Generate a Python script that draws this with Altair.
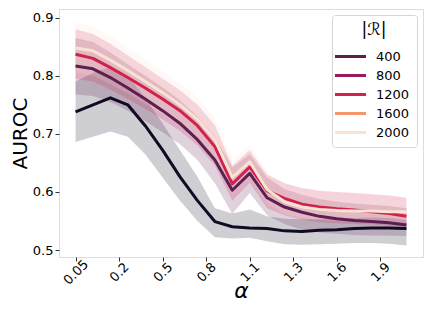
import altair as alt
import pandas as pd

# alpha grid (20 evaluated points) and the tick labels shown on the axis
alphas = [0.05, 0.1, 0.2, 0.3, 0.4, 0.5, 0.6, 0.7, 0.8, 0.9,
          1.0, 1.1, 1.2, 1.3, 1.4, 1.5, 1.6, 1.7, 1.8, 1.9]
tick_labels = ["0.05", "0.2", "0.5", "0.8", "1.1", "1.3", "1.6", "1.9"]

# |R| values in the colour scale and those listed in the legend
all_sizes = ["200", "400", "800", "1200", "1600", "2000"]
legend_sizes = ["400", "800", "1200", "1600", "2000"]
palette = ["#0f0b22", "#5d1e51", "#9a1b5c", "#d2204f", "#f4956a", "#f8e2d2"]

# mean AUROC per drawn series
mean_200 = [0.738, 0.750, 0.762, 0.750, 0.714, 0.672, 0.626, 0.585, 0.549, 0.540,
            0.538, 0.537, 0.533, 0.532, 0.534, 0.535, 0.537, 0.538, 0.538, 0.537]
mean_400 = [0.817, 0.812, 0.797, 0.779, 0.760, 0.740, 0.718, 0.690, 0.655, 0.603,
            0.632, 0.590, 0.574, 0.565, 0.558, 0.554, 0.551, 0.549, 0.547, 0.543]
mean_1200 = [0.837, 0.830, 0.814, 0.797, 0.779, 0.760, 0.740, 0.714, 0.678, 0.614,
             0.643, 0.602, 0.589, 0.579, 0.574, 0.571, 0.569, 0.566, 0.563, 0.558]
mean_2000 = [0.848, 0.843, 0.827, 0.809, 0.790, 0.771, 0.750, 0.725, 0.690, 0.625,
             0.652, 0.604, 0.583, 0.574, 0.570, 0.568, 0.567, 0.567, 0.566, 0.566]

# confidence band limits
lo_200 = [0.686, 0.695, 0.704, 0.695, 0.665, 0.625, 0.585, 0.550, 0.522, 0.520,
          0.521, 0.515, 0.510, 0.509, 0.510, 0.511, 0.512, 0.512, 0.511, 0.508]
hi_200 = [0.790, 0.805, 0.815, 0.800, 0.762, 0.718, 0.672, 0.626, 0.572, 0.563,
          0.570, 0.558, 0.554, 0.553, 0.553, 0.554, 0.555, 0.556, 0.555, 0.552]
lo_400 = [0.768, 0.765, 0.755, 0.740, 0.722, 0.703, 0.682, 0.655, 0.615, 0.562,
          0.598, 0.560, 0.545, 0.535, 0.530, 0.528, 0.526, 0.525, 0.525, 0.524]
hi_400 = [0.865, 0.858, 0.840, 0.820, 0.800, 0.780, 0.758, 0.730, 0.695, 0.642,
          0.665, 0.625, 0.605, 0.595, 0.588, 0.583, 0.580, 0.578, 0.576, 0.572]
lo_1200 = [0.795, 0.790, 0.776, 0.760, 0.743, 0.725, 0.705, 0.680, 0.645, 0.585,
           0.616, 0.572, 0.560, 0.552, 0.548, 0.546, 0.545, 0.544, 0.542, 0.540]
hi_1200 = [0.880, 0.872, 0.855, 0.835, 0.815, 0.795, 0.775, 0.750, 0.715, 0.645,
           0.672, 0.630, 0.615, 0.607, 0.602, 0.600, 0.598, 0.596, 0.594, 0.590]
lo_2000 = [0.805, 0.800, 0.786, 0.770, 0.752, 0.734, 0.714, 0.690, 0.656, 0.598,
           0.625, 0.580, 0.562, 0.555, 0.552, 0.550, 0.549, 0.548, 0.548, 0.547]
hi_2000 = [0.892, 0.885, 0.868, 0.848, 0.828, 0.808, 0.787, 0.762, 0.728, 0.655,
           0.682, 0.634, 0.608, 0.598, 0.592, 0.590, 0.589, 0.588, 0.587, 0.585]

series = {
    "200": (mean_200, lo_200, hi_200),
    "400": (mean_400, lo_400, hi_400),
    "1200": (mean_1200, lo_1200, hi_1200),
    "2000": (mean_2000, lo_2000, hi_2000),
}

rows = []
for order, (name, (m, lo, hi)) in enumerate(series.items()):
    for i, a in enumerate(alphas):
        rows.append({"R": name, "order": order, "pos": i, "alpha": a,
                     "auroc": m[i], "lo": lo[i], "hi": hi[i]})
df = pd.DataFrame(rows)

n = len(alphas)
tick_step = 2.5
tick_values = [k * tick_step for k in range(len(tick_labels))]
label_expr = "[" + ",".join("'%s'" % t for t in tick_labels) + "][round(datum.value / %s)]" % tick_step

font = "DejaVu Sans"

legend = alt.Legend(
    title="|ℛ|",
    values=legend_sizes,
    orient="top-right",
    offset=6,
    symbolType="M-1.55,0L1.55,0",
    symbolSize=400,
    symbolStrokeWidth=3,
    symbolOpacity=1,
    symbolFillColor="transparent",
    labelFontSize=13,
    labelFont=font,
    labelColor="black",
    labelOffset=14,
    titleFontSize=17,
    titleFont=font,
    titleFontWeight="normal",
    titleColor="black",
    titleAnchor="middle",
    titleAlign="center",
    titlePadding=6,
    padding=7,
    rowPadding=0,
    fillColor="white",
    strokeColor="#d6d6d6",
    cornerRadius=3,
)

color = alt.Color("R:N", scale=alt.Scale(domain=all_sizes, range=palette), legend=legend)

x = alt.X(
    "pos:Q",
    scale=alt.Scale(domain=[-0.95, n - 1 + 0.95], nice=False, zero=False),
    axis=alt.Axis(
        title="α",
        values=tick_values,
        labelExpr=label_expr,
        labelAngle=-45,
        labelAlign="center",
        labelBaseline="middle",
        labelPadding=11,
        labelFontSize=13,
        labelFont=font,
        labelColor="black",
        tickSize=4,
        tickColor="#333333",
        grid=False,
        domain=False,
        titleFontSize=22,
        titleFont=font,
        titleFontStyle="italic",
        titleFontWeight="normal",
        titleColor="black",
        titleBaseline="alphabetic",
        titleY=40,
    ),
)

y_axis = alt.Axis(
    title="AUROC",
    values=[0.5, 0.6, 0.7, 0.8, 0.9],
    format=".1f",
    labelFontSize=13,
    labelFont=font,
    labelColor="black",
    labelPadding=2,
    tickSize=4,
    tickColor="#333333",
    grid=False,
    domain=False,
    titleFontSize=20,
    titleFont=font,
    titleFontWeight="normal",
    titleColor="black",
    titlePadding=2,
)
yscale = alt.Scale(domain=[0.488, 0.915], nice=False, zero=False)

bands = alt.Chart(df).mark_area(opacity=0.2, interpolate="linear").encode(
    x=x,
    y=alt.Y("lo:Q", scale=yscale, axis=y_axis),
    y2="hi:Q",
    color=color,
    order="order:Q",
    detail="R:N",
)

lines = alt.Chart(df).mark_line(strokeWidth=3, strokeJoin="round", strokeCap="butt").encode(
    x=x,
    y=alt.Y("auroc:Q", scale=yscale, axis=y_axis),
    color=color,
    detail="R:N",
)

chart = alt.layer(bands, lines).properties(
    width=364,
    height=248,
    padding={"left": 51, "top": 1, "right": 1, "bottom": 47},
    autosize=alt.AutoSizeParams(type="none"),
).configure_view(
    stroke="#3a3a3a",
    strokeWidth=1.2,
).configure(background="white")

chart.save("out.html", embed_options={"renderer": "svg", "actions": False})
